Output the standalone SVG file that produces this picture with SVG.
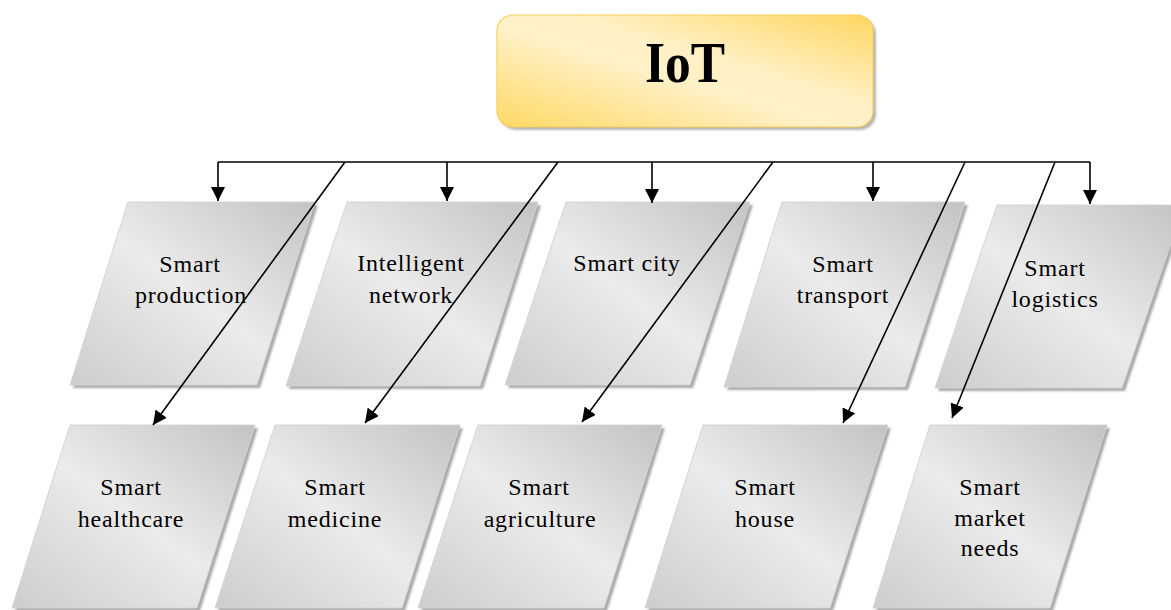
<svg xmlns="http://www.w3.org/2000/svg" width="1171" height="610" viewBox="0 0 1171 610">
  <defs>
    <linearGradient id="goldFill" x1="0" y1="1" x2="1" y2="0">
      <stop offset="0" stop-color="#ffd864"/>
      <stop offset="0.45" stop-color="#fff1c8"/>
      <stop offset="0.6" stop-color="#fff0c4"/>
      <stop offset="1" stop-color="#ffd660"/>
    </linearGradient>
    <linearGradient id="greyFill" x1="1" y1="0" x2="0" y2="1">
      <stop offset="0" stop-color="#c3c3c3"/>
      <stop offset="0.5" stop-color="#ebebeb"/>
      <stop offset="1" stop-color="#cdcdcd"/>
    </linearGradient>
    <filter id="soft" x="-10%" y="-10%" width="120%" height="120%">
      <feGaussianBlur stdDeviation="1"/>
    </filter>
    <marker id="arrow" viewBox="0 0 14 14" refX="14" refY="7" markerWidth="14" markerHeight="14" markerUnits="userSpaceOnUse" orient="auto">
      <path d="M0,0 L14,7 L0,14 z" fill="#000"/>
    </marker>
  </defs>
  <style>
    .card { fill: url(#greyFill); stroke: #d4d4d4; stroke-width: 1; }
    .shade { fill: #a9a9a9; filter: url(#soft); }
    .label { font-family: "Liberation Serif", "Times New Roman", serif; font-size: 24px; letter-spacing: 0.8px; fill: #000; text-anchor: middle; }
    .title { font-family: "Liberation Serif", "Times New Roman", serif; font-size: 57px; font-weight: bold; fill: #000; text-anchor: middle; }
    .wire { fill: none; stroke: #000; stroke-width: 1.6; }
  </style>

  <rect width="1171" height="610" fill="#fff"/>

  <!-- root -->
  <g id="iot">
    <rect x="500" y="18" width="376" height="112" rx="16" fill="#b5b5b5" filter="url(#soft)"/>
    <rect x="497" y="15" width="376" height="112" rx="16" fill="url(#goldFill)" stroke="#f7cf5a" stroke-width="1.2"/>
    <text class="title" x="685" y="82" textLength="80" lengthAdjust="spacingAndGlyphs">IoT</text>
  </g>

  <!-- upper row -->
  <g id="smart-production">
    <polygon class="shade" points="131,205 318,205 260,388 73,388"/>
    <polygon class="card" points="128,202 315,202 257,385 70,385"/>
    <text class="label" x="190" y="272">Smart</text>
    <text class="label" x="191" y="303">production</text>
  </g>
  <g id="intelligent-network">
    <polygon class="shade" points="350,205 541,205 483,389 289,389"/>
    <polygon class="card" points="347,202 538,202 480,386 286,386"/>
    <text class="label" x="411" y="271">Intelligent</text>
    <text class="label" x="411" y="303">network</text>
  </g>
  <g id="smart-city">
    <polygon class="shade" points="569,205 753,205 693,388 508,388"/>
    <polygon class="card" points="566,202 750,202 690,385 505,385"/>
    <text class="label" x="627" y="271">Smart city</text>
  </g>
  <g id="smart-transport">
    <polygon class="shade" points="785,205 968,205 908,390 727,390"/>
    <polygon class="card" points="782,202 965,202 905,387 724,387"/>
    <text class="label" x="843" y="272">Smart</text>
    <text class="label" x="843" y="303">transport</text>
  </g>
  <g id="smart-logistics">
    <polygon class="shade" points="1000,208 1187,208 1125,391 938,391"/>
    <polygon class="card" points="997,205 1184,205 1122,388 935,388"/>
    <text class="label" x="1055" y="276">Smart</text>
    <text class="label" x="1055" y="307">logistics</text>
  </g>

  <!-- lower row -->
  <g id="smart-healthcare">
    <polygon class="shade" points="73,428 258,428 200,611 15,611"/>
    <polygon class="card" points="70,425 255,425 197,608 12,608"/>
    <text class="label" x="131" y="495">Smart</text>
    <text class="label" x="131" y="527">healthcare</text>
  </g>
  <g id="smart-medicine">
    <polygon class="shade" points="278,428 463,428 405,611 218,611"/>
    <polygon class="card" points="275,425 460,425 402,608 215,608"/>
    <text class="label" x="335" y="495">Smart</text>
    <text class="label" x="335" y="527">medicine</text>
  </g>
  <g id="smart-agriculture">
    <polygon class="shade" points="481,428 665,428 607,611 421,611"/>
    <polygon class="card" points="478,425 662,425 604,608 418,608"/>
    <text class="label" x="539" y="495">Smart</text>
    <text class="label" x="540" y="527">agriculture</text>
  </g>
  <g id="smart-house">
    <polygon class="shade" points="706,428 891,428 833,611 648,611"/>
    <polygon class="card" points="703,425 888,425 830,608 645,608"/>
    <text class="label" x="765" y="495">Smart</text>
    <text class="label" x="765" y="527">house</text>
  </g>
  <g id="smart-market-needs">
    <polygon class="shade" points="933,428 1110,428 1053,611 876,611"/>
    <polygon class="card" points="930,425 1107,425 1050,608 873,608"/>
    <text class="label" x="990" y="495">Smart</text>
    <text class="label" x="990" y="526">market</text>
    <text class="label" x="990" y="556">needs</text>
  </g>

  <!-- connectors -->
  <g id="connectors">
    <path class="wire" d="M218,162 H1090"/>
    <path class="wire" d="M218,162 V201" marker-end="url(#arrow)"/>
    <path class="wire" d="M447,162 V201" marker-end="url(#arrow)"/>
    <path class="wire" d="M652,162 V203" marker-end="url(#arrow)"/>
    <path class="wire" d="M873,162 V201" marker-end="url(#arrow)"/>
    <path class="wire" d="M1090,162 V204" marker-end="url(#arrow)"/>
    <path class="wire" d="M345,162 L153,425" marker-end="url(#arrow)"/>
    <path class="wire" d="M558,162 L365,423" marker-end="url(#arrow)"/>
    <path class="wire" d="M773,162 L582,422" marker-end="url(#arrow)"/>
    <path class="wire" d="M965,162 L843,423" marker-end="url(#arrow)"/>
    <path class="wire" d="M1055,162 L952,418" marker-end="url(#arrow)"/>
  </g>
</svg>
